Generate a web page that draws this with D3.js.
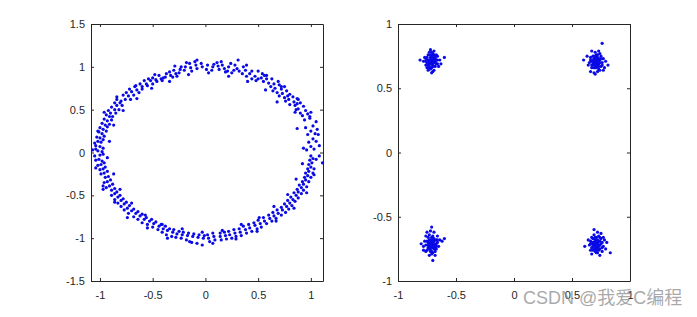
<!DOCTYPE html>
<html>
<head>
<meta charset="utf-8">
<script src="https://cdn.jsdelivr.net/npm/d3@7"></script>
<style>
  body { margin: 0; background: #fff; }
  svg { display: block; }
  .tick text { font-family: "Liberation Sans", Arial, sans-serif; font-size: 11px; fill: #262626; }
  .domain, .tick line { stroke: #262626; }
</style>
</head>
<body>
<svg id="chart" width="697" height="317"></svg>
<script>
// received signal with phase noise (ring)
const ringPts = [
  [1.03,0.04],[0.96,0.03],[1.08,0.08],[1.0,0.07],[0.98,0.12],[1.05,0.13],[1.02,0.16],
  [0.97,0.21],[1.04,0.22],[1.0,0.25],[1.06,0.27],[0.95,0.29],[1.02,0.31],[1.05,0.36],
  [0.94,0.38],[0.99,0.40],[0.97,0.45],[0.92,0.43],[1.0,0.47],[0.9,0.46],[0.95,0.49],
  [0.88,0.51],[0.93,0.54],[0.86,0.5],[0.85,0.55],[0.9,0.58],[0.87,0.57],[0.84,0.59],
  [0.8,0.56],[0.88,0.62],[0.79,0.62],[0.83,0.65],[0.76,0.6],[0.8,0.68],[0.75,0.64],
  [0.78,0.66],[0.73,0.69],[0.77,0.72],[0.7,0.66],[0.72,0.74],[0.68,0.7],[0.75,0.77],
  [0.66,0.75],[0.7,0.79],[0.64,0.72],[0.65,0.8],[0.62,0.77],[0.69,0.83],[0.6,0.81],
  [0.58,0.86],[0.63,0.86],[0.55,0.83],[0.58,0.9],[0.53,0.87],[0.5,0.86],[0.54,0.92],
  [0.48,0.84],[0.47,0.89],[0.44,0.86],[0.5,0.95],[0.42,0.92],[0.44,0.95],[0.39,0.89],
  [0.38,0.96],[0.35,0.92],[0.36,1.0],[0.32,0.95],[0.31,1.08],[0.3,0.98],[0.27,0.96],
  [0.28,1.02],[0.25,0.93],[0.22,1.0],[0.21,0.95],[0.24,1.04],[0.18,0.98],[0.16,1.02],
  [0.19,0.94],[0.12,1.01],[0.13,0.97],[0.11,1.05],[0.07,1.0],[0.06,0.96],[0.08,1.03],
  [0.02,1.02],[0.01,0.97],
  [-0.03,1.0],[-0.04,1.04],[-0.08,0.98],[-0.09,1.02],[-0.1,1.06],[-0.14,0.99],[-0.15,1.04],
  [-0.13,0.95],[-0.19,1.0],[-0.2,0.96],[-0.18,1.05],[-0.24,0.97],[-0.25,0.93],[-0.23,1.0],
  [-0.28,0.92],[-0.3,0.96],[-0.27,0.89],[-0.33,0.9],[-0.34,0.94],[-0.31,0.88],[-0.38,0.88],
  [-0.37,0.92],[-0.4,0.87],[-0.42,0.86],[-0.44,0.9],[-0.41,0.84],[-0.47,0.85],[-0.46,0.83],
  [-0.5,0.87],[-0.52,0.84],[-0.5,0.8],[-0.54,0.86],[-0.56,0.8],[-0.58,0.84],[-0.55,0.78],
  [-0.6,0.77],[-0.62,0.8],[-0.6,0.74],[-0.65,0.73],[-0.67,0.77],[-0.63,0.7],[-0.7,0.71],
  [-0.68,0.67],[-0.72,0.74],[-0.73,0.66],[-0.75,0.7],[-0.71,0.62],[-0.76,0.62],[-0.78,0.67],
  [-0.8,0.6],[-0.81,0.58],[-0.79,0.55],[-0.84,0.62],[-0.84,0.55],[-0.86,0.58],[-0.82,0.5],
  [-0.86,0.5],[-0.89,0.53],[-0.85,0.46],[-0.9,0.46],[-0.88,0.42],[-0.92,0.49],[-0.91,0.42],
  [-0.94,0.44],[-0.89,0.38],[-0.93,0.37],[-0.96,0.39],[-0.91,0.33],[-0.95,0.32],[-0.98,0.34],
  [-0.93,0.3],[-0.97,0.27],[-0.94,0.25],[-1.0,0.29],[-0.98,0.22],[-1.01,0.24],[-0.96,0.19],
  [-1.0,0.17],[-0.97,0.15],[-1.03,0.18],[-0.99,0.12],[-1.02,0.13],[-1.05,0.11],[-1.0,0.07],
  [-1.04,0.08],[-0.97,0.05],[-1.02,0.02],[-1.07,0.03],[-0.98,0.01],
  [-1.0,-0.03],[-1.05,-0.04],[-0.97,-0.02],[-1.01,-0.08],[-0.98,-0.1],[-1.04,-0.09],
  [-0.99,-0.14],[-1.02,-0.15],[-0.96,-0.12],[-0.97,-0.19],[-1.0,-0.2],[-0.95,-0.17],
  [-0.96,-0.24],[-0.99,-0.25],[-0.93,-0.22],[-0.95,-0.29],[-0.92,-0.28],[-0.93,-0.34],
  [-0.96,-0.35],[-0.9,-0.32],[-0.91,-0.39],[-0.94,-0.41],[-0.88,-0.37],[-0.89,-0.44],
  [-0.86,-0.42],[-0.97,-0.43],[-0.86,-0.48],[-0.84,-0.46],[-0.89,-0.5],[-0.83,-0.52],
  [-0.86,-0.55],[-0.81,-0.5],[-0.8,-0.56],[-0.83,-0.59],[-0.78,-0.54],[-0.77,-0.6],
  [-0.8,-0.63],[-0.75,-0.58],[-0.74,-0.65],[-0.77,-0.67],[-0.72,-0.62],[-0.7,-0.68],
  [-0.73,-0.71],[-0.68,-0.66],[-0.66,-0.71],[-0.68,-0.75],[-0.64,-0.69],[-0.62,-0.74],
  [-0.64,-0.78],[-0.6,-0.72],[-0.58,-0.78],[-0.6,-0.82],[-0.56,-0.76],[-0.53,-0.8],
  [-0.55,-0.84],[-0.51,-0.78],[-0.49,-0.83],[-0.5,-0.87],[-0.47,-0.81],[-0.44,-0.86],
  [-0.45,-0.9],[-0.42,-0.84],[-0.4,-0.89],[-0.41,-0.93],[-0.38,-0.86],[-0.36,-0.91],
  [-0.37,-0.96],[-0.34,-0.89],[-0.31,-0.93],[-0.32,-0.98],[-0.3,-0.9],[-0.27,-0.95],
  [-0.28,-0.99],[-0.25,-0.92],[-0.22,-0.96],[-0.23,-1.0],[-0.21,-0.93],[-0.17,-0.97],
  [-0.18,-1.02],[-0.16,-0.94],[-0.12,-0.98],[-0.13,-1.05],[-0.11,-0.95],[-0.07,-0.99],
  [-0.08,-1.06],[-0.06,-0.96],[-0.02,-1.0],[-0.03,-1.08],[-0.01,-0.97],
  [0.03,-1.0],[0.04,-1.04],[0.02,-0.96],[0.08,-0.98],[0.09,-1.02],[0.07,-0.94],
  [0.14,-0.98],[0.14,-0.94],[0.15,-1.02],[0.19,-0.97],[0.2,-1.01],[0.18,-0.93],
  [0.23,-0.96],[0.25,-1.0],[0.22,-0.92],[0.28,-0.94],[0.29,-0.98],[0.27,-0.9],
  [0.33,-0.93],[0.34,-0.97],[0.32,-0.89],[0.38,-0.9],[0.39,-0.94],[0.36,-0.86],
  [0.42,-0.88],[0.44,-0.92],[0.41,-0.84],[0.47,-0.85],[0.49,-0.89],[0.46,-0.82],
  [0.52,-0.83],[0.53,-0.87],[0.5,-0.79],[0.56,-0.8],[0.58,-0.83],[0.55,-0.76],
  [0.61,-0.77],[0.63,-0.8],[0.6,-0.73],[0.65,-0.74],[0.67,-0.77],[0.64,-0.7],
  [0.69,-0.71],[0.72,-0.73],[0.68,-0.67],[0.73,-0.67],[0.76,-0.7],[0.72,-0.64],
  [0.77,-0.63],[0.79,-0.66],[0.75,-0.6],[0.8,-0.59],[0.82,-0.62],[0.78,-0.56],
  [0.83,-0.55],[0.85,-0.57],[0.81,-0.52],[0.86,-0.5],[0.88,-0.53],[0.84,-0.47],
  [0.88,-0.46],[0.91,-0.48],[0.87,-0.43],[0.91,-0.41],[0.93,-0.44],[0.89,-0.38],
  [0.93,-0.37],[0.96,-0.4],[0.92,-0.34],[0.95,-0.32],[0.98,-0.34],[0.94,-0.29],
  [0.97,-0.27],[1.0,-0.29],[0.95,-0.24],[0.98,-0.22],[1.02,-0.24],[0.97,-0.19],
  [1.0,-0.17],[1.03,-0.19],[0.98,-0.14],[1.01,-0.12],[1.11,-0.12],[0.99,-0.09],
  [1.02,-0.07],[1.05,-0.08],[1.0,-0.04],
  // scattered stragglers off the main band
  [0.93,0.05],[1.07,0.21],[0.87,0.28],[0.99,0.42],[0.85,0.47],[0.87,0.63],[0.68,0.59],
  [0.72,0.77],[0.57,0.73],[0.56,0.9],[0.4,0.83],[0.39,1.02],[0.22,0.89],[0.15,1.06],
  [0.03,0.93],[-0.08,1.08],[-0.16,0.91],[-0.29,1.01],[-0.34,0.83],[-0.48,0.91],
  [-0.51,0.75],[-0.66,0.78],[-0.65,0.63],[-0.84,0.65],[-0.78,0.49],[-0.96,0.47],
  [-0.87,0.32],[-1.02,0.25],[-0.91,0.13],[-1.04,0.04],[-0.93,-0.06],[-1.04,-0.18],
  [-0.87,-0.25],[-0.97,-0.39],[-0.81,-0.43],[-0.86,-0.58],[-0.7,-0.59],[-0.74,-0.76],
  [-0.57,-0.73],[-0.55,-0.88],[-0.41,-0.84],[-0.36,-1.0],[-0.22,-0.89],[-0.15,-1.04],
  [-0.03,-0.93],[0.07,-1.06],[0.16,-0.91],[0.29,-1.01],[0.34,-0.84],[0.49,-0.92],
  [0.51,-0.76],[0.67,-0.8],[0.65,-0.63],[0.84,-0.65],[0.78,-0.49],[0.96,-0.47],
  [0.86,-0.31],[1.03,-0.26],[0.92,-0.13],[1.08,-0.04]
];

// QPSK constellation after correction -- four clusters
const qpskPts = [
  // top left
  [-0.71,0.71],[-0.69,0.73],[-0.73,0.69],[-0.68,0.70],[-0.74,0.72],[-0.70,0.68],[-0.72,0.74],
  [-0.67,0.72],[-0.75,0.70],[-0.71,0.66],[-0.69,0.76],[-0.73,0.67],[-0.66,0.69],[-0.76,0.73],
  [-0.70,0.75],[-0.72,0.65],[-0.68,0.67],[-0.74,0.76],[-0.71,0.73],[-0.70,0.70],[-0.64,0.72],
  [-0.78,0.71],[-0.69,0.64],[-0.73,0.78],[-0.71,0.62],[-0.67,0.76],[-0.75,0.66],[-0.72,0.80],
  [-0.70,0.72],[-0.68,0.73],[-0.74,0.68],[-0.71,0.69],[-0.65,0.67],[-0.77,0.74],[-0.70,0.63],
  [-0.72,0.71],[-0.69,0.79],[-0.73,0.72],[-0.60,0.74],[-0.81,0.72],[-0.66,0.75],[-0.74,0.64],
  [-0.68,0.71],[-0.72,0.70],[-0.70,0.77],[-0.63,0.69],[-0.76,0.68],
  [-0.70,0.71],[-0.72,0.72],[-0.71,0.70],[-0.69,0.70],[-0.73,0.71],[-0.70,0.73],[-0.72,0.69],
  [-0.71,0.75],[-0.68,0.74],[-0.74,0.70],[-0.70,0.67],[-0.72,0.76],[-0.67,0.69],[-0.75,0.74],
  [-0.69,0.72],[-0.73,0.66],[-0.71,0.78],[-0.66,0.72],[-0.76,0.71],[-0.70,0.69],
  // top right
  [0.71,0.71],[0.73,0.69],[0.69,0.73],[0.72,0.74],[0.68,0.68],[0.74,0.72],[0.70,0.66],
  [0.67,0.71],[0.75,0.67],[0.71,0.76],[0.66,0.74],[0.73,0.65],[0.69,0.69],[0.76,0.70],
  [0.70,0.73],[0.72,0.63],[0.68,0.75],[0.74,0.77],[0.71,0.68],[0.65,0.70],[0.77,0.73],
  [0.69,0.62],[0.73,0.79],[0.64,0.68],[0.76,0.85],[0.70,0.70],[0.78,0.66],[0.67,0.66],
  [0.72,0.72],[0.63,0.75],[0.79,0.71],[0.70,0.78],[0.74,0.64],[0.68,0.72],[0.81,0.68],
  [0.66,0.63],[0.71,0.74],[0.75,0.75],[0.60,0.72],[0.69,0.71],[0.73,0.70],[0.77,0.64],
  [0.72,0.67],[0.67,0.79],[0.70,0.61],
  [0.71,0.72],[0.70,0.70],[0.72,0.71],[0.69,0.72],[0.73,0.73],[0.70,0.68],[0.72,0.69],
  [0.71,0.66],[0.68,0.70],[0.74,0.70],[0.69,0.75],[0.73,0.67],[0.66,0.72],[0.75,0.73],
  [0.70,0.74],[0.72,0.76],[0.67,0.68],[0.76,0.68],[0.71,0.69],[0.69,0.66],
  // bottom left
  [-0.71,-0.71],[-0.69,-0.69],[-0.73,-0.73],[-0.70,-0.74],[-0.72,-0.68],[-0.68,-0.72],
  [-0.74,-0.70],[-0.71,-0.66],[-0.67,-0.75],[-0.75,-0.76],[-0.70,-0.78],[-0.73,-0.64],
  [-0.66,-0.70],[-0.77,-0.69],[-0.69,-0.67],[-0.72,-0.75],[-0.68,-0.77],[-0.74,-0.66],
  [-0.71,-0.73],[-0.70,-0.70],[-0.64,-0.68],[-0.78,-0.73],[-0.69,-0.62],[-0.73,-0.80],
  [-0.71,-0.58],[-0.70,-0.84],[-0.75,-0.62],[-0.66,-0.65],[-0.80,-0.71],[-0.62,-0.69],
  [-0.60,-0.67],[-0.76,-0.77],[-0.68,-0.80],[-0.72,-0.71],[-0.70,-0.65],[-0.74,-0.74],
  [-0.67,-0.68],[-0.73,-0.68],[-0.69,-0.75],[-0.76,-0.65],[-0.65,-0.73],[-0.71,-0.77],
  [-0.78,-0.76],[-0.72,-0.61],[-0.67,-0.71],
  [-0.70,-0.71],[-0.72,-0.70],[-0.71,-0.72],[-0.69,-0.71],[-0.73,-0.71],[-0.70,-0.73],
  [-0.72,-0.73],[-0.71,-0.69],[-0.68,-0.74],[-0.74,-0.72],[-0.70,-0.67],[-0.72,-0.77],
  [-0.67,-0.73],[-0.75,-0.69],[-0.69,-0.73],[-0.73,-0.75],[-0.71,-0.79],[-0.66,-0.68],
  [-0.76,-0.72],[-0.70,-0.69],
  // bottom right
  [0.71,-0.71],[0.73,-0.69],[0.69,-0.73],[0.70,-0.68],[0.72,-0.74],[0.68,-0.70],
  [0.74,-0.72],[0.71,-0.66],[0.67,-0.74],[0.75,-0.67],[0.70,-0.77],[0.73,-0.65],
  [0.66,-0.69],[0.77,-0.73],[0.69,-0.64],[0.72,-0.78],[0.68,-0.76],[0.76,-0.70],
  [0.71,-0.73],[0.70,-0.70],[0.65,-0.72],[0.78,-0.68],[0.69,-0.60],[0.74,-0.80],
  [0.61,-0.73],[0.83,-0.78],[0.75,-0.63],[0.67,-0.66],[0.79,-0.75],[0.64,-0.68],
  [0.72,-0.70],[0.70,-0.75],[0.73,-0.72],[0.68,-0.67],[0.76,-0.77],[0.66,-0.76],
  [0.74,-0.66],[0.71,-0.69],[0.69,-0.71],[0.80,-0.70],[0.72,-0.62],[0.67,-0.79],
  [0.77,-0.66],[0.70,-0.73],[0.74,-0.75],
  [0.71,-0.70],[0.70,-0.72],[0.72,-0.71],[0.69,-0.70],[0.73,-0.73],[0.70,-0.69],
  [0.72,-0.68],[0.71,-0.75],[0.68,-0.72],[0.74,-0.69],[0.69,-0.67],[0.73,-0.76],
  [0.66,-0.71],[0.75,-0.71],[0.70,-0.66],[0.72,-0.76],[0.67,-0.70],[0.76,-0.74],
  [0.71,-0.78],[0.69,-0.74]
];

const ringXTicks = [-1, -0.5, 0, 0.5, 1];
const ringYTicks = [-1.5, -1, -0.5, 0, 0.5, 1, 1.5];
const qpskXTicks = [-1, -0.5, 0, 0.5, 1];
const qpskYTicks = [-1, -0.5, 0, 0.5, 1];
const watermark = "CSDN @我爱C编程";

const svg = d3.select("#chart");
svg.append("rect").attr("width", 697).attr("height", 317).attr("fill", "#fff");

// hyphen minus like matlab, not the unicode minus of d3.format
const fmt = d => String(d);

function drawPanel(pts, xDomain, yDomain, xTicks, yTicks, left, right) {
  const top = 24, bottom = 281;
  const x = d3.scaleLinear().domain(xDomain).range([left, right]);
  const y = d3.scaleLinear().domain(yDomain).range([bottom, top]);
  const g = svg.append("g");

  // ticks point inward on all four sides (box on)
  g.append("g")
    .attr("transform", `translate(0,${bottom})`)
    .call(d3.axisBottom(x).tickValues(xTicks).tickFormat(fmt)
      .tickSizeInner(-3).tickSizeOuter(0).tickPadding(10));
  g.append("g")
    .attr("transform", `translate(0,${top})`)
    .call(d3.axisTop(x).tickValues(xTicks).tickFormat("")
      .tickSizeInner(-3).tickSizeOuter(0));
  g.append("g")
    .attr("transform", `translate(${left},0)`)
    .call(d3.axisLeft(y).tickValues(yTicks).tickFormat(fmt)
      .tickSizeInner(-3).tickSizeOuter(0).tickPadding(6));
  g.append("g")
    .attr("transform", `translate(${right},0)`)
    .call(d3.axisRight(y).tickValues(yTicks).tickFormat("")
      .tickSizeInner(-3).tickSizeOuter(0));

  g.selectAll(".domain").attr("stroke-width", 1);

  g.append("g")
    .selectAll("circle")
    .data(pts)
    .join("circle")
    .attr("cx", d => x(d[0]))
    .attr("cy", d => y(d[1]))
    .attr("r", 1.6)
    .attr("fill", "#0a0ae6");
}

drawPanel(ringPts, [-1.085, 1.115], [-1.5, 1.5], ringXTicks, ringYTicks, 91, 323);
drawPanel(qpskPts, [-1, 1], [-1, 1], qpskXTicks, qpskYTicks, 398, 630);

svg.append("text")
  .attr("x", 523)
  .attr("y", 304)
  .attr("font-family", "'Liberation Sans', 'Noto Sans CJK SC', sans-serif")
  .attr("font-size", 18)
  .attr("fill", "#8c8c8c")
  .attr("fill-opacity", 0.75)
  .text(watermark);
</script>
</body>
</html>
